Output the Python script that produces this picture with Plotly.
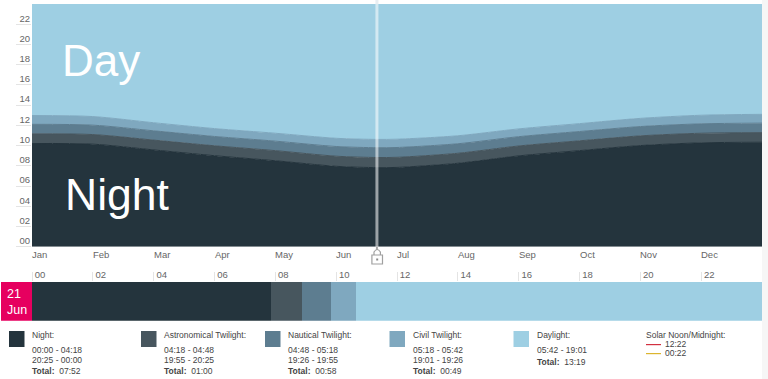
import plotly.graph_objects as go

W, H = 768, 379
L, R, T, B = 32, 762, 4, 246.7
BT, BB = 282, 320.7

# Year chart: hours per day in each band (x = months since 1 Jan)
months = ["Jan", "Feb", "Mar", "Apr", "May", "Jun", "Jul", "Aug", "Sep", "Oct", "Nov", "Dec"]
year_x = [0, 1, 2, 3, 4, 5, 5.67, 6, 7, 8, 9, 10, 11, 12]
night = [10.20, 10.14, 9.57, 9.00, 8.50, 7.95, 7.82, 7.84, 8.25, 8.98, 9.50, 10.00, 10.27, 10.33]
astro = [0.96, 0.95, 0.97, 0.98, 1.00, 1.00, 1.00, 1.00, 0.99, 0.98, 0.97, 0.96, 0.95, 0.95]
nautical = [0.94, 0.93, 0.92, 0.92, 0.94, 0.96, 0.97, 0.97, 0.94, 0.92, 0.92, 0.92, 0.93, 0.94]
civil = [0.87, 0.85, 0.80, 0.78, 0.78, 0.81, 0.82, 0.82, 0.79, 0.77, 0.78, 0.81, 0.85, 0.87]
daylight = [11.03, 11.13, 11.74, 12.32, 12.78, 13.28, 13.39, 13.37, 13.03, 12.35, 11.83, 11.31, 11.00, 10.91]
hour_ticks = ["00", "02", "04", "06", "08", "10", "12", "14", "16", "18", "20", "22"]

# Selected day: durations in hours, in stacking order
band_names = ["Night", "Astronomical Twilight", "Nautical Twilight", "Civil Twilight", "Daylight"]
band_colors = ["#24343d", "#47565e", "#5d7d90", "#7fa8bf", "#9ecfe3"]
day_hours = [7.87, 1.00, 0.97, 0.82, 13.34]
selected_x = 5.67
legend_lines = [
    ["00:00 - 04:18", "20:25 - 00:00", "07:52"],
    ["04:18 - 04:48", "19:55 - 20:25", "01:00"],
    ["04:48 - 05:18", "19:26 - 19:55", "00:58"],
    ["05:18 - 05:42", "19:01 - 19:26", "00:49"],
    ["05:42 - 19:01", None, "13:19"],
]
legend_px = [9, 141, 265, 389.5, 513.5]

GREY = "#666666"
DARK = "#444444"
FONT = "Liberation Sans"


def px(x):
    return x / W


def py(y):
    return 1 - y / H


fig = go.Figure()
for name, vals, col in zip(band_names, [night, astro, nautical, civil, daylight], band_colors):
    fig.add_trace(go.Scatter(
        x=year_x, y=vals, name=name, stackgroup="year", mode="lines",
        fillcolor=col, line=dict(shape="spline", smoothing=0.8, width=1, color=col), hoverinfo="x+y+name",
    ))
for name, v, col in zip(band_names, day_hours, band_colors):
    fig.add_trace(go.Bar(
        x=[v], y=[0], name=name, orientation="h", marker=dict(color=col, line=dict(width=0)),
        xaxis="x2", yaxis="y2",
    ))

shapes = []
ann = []


def text(x, y, s, size=9, color=DARK, xanchor="left", **kw):
    ann.append(dict(x=px(x), y=py(y), xref="paper", yref="paper", text=s, showarrow=False,
                    xanchor=xanchor, yanchor="middle", align="left", borderpad=0, borderwidth=0,
                    font=dict(size=size, color=color, family=FONT), **kw))


def rect(x0, y0, x1, y1, color):
    shapes.append(dict(type="rect", xref="paper", yref="paper", x0=px(x0), x1=px(x1),
                       y0=py(y0), y1=py(y1), fillcolor=color, line=dict(width=0)))


# right side strip
rect(R, 0, W, H, "#f6f6f6")

# selected-day marker
shapes.append(dict(type="line", xref="x", yref="paper", x0=selected_x, x1=selected_x,
                   y0=py(250), y1=py(T), line=dict(color="rgba(255,255,255,0.55)", width=3)))
shapes.append(dict(type="line", xref="x", yref="paper", x0=selected_x, x1=selected_x,
                   y0=py(B), y1=py(250), line=dict(color="#a8a8a8", width=2)))
shapes.append(dict(type="line", xref="x", yref="paper", x0=selected_x, x1=selected_x,
                   y0=py(4), y1=py(0), line=dict(color="#e8eef2", width=3)))

# lock icon
lx, ly = 377.2, 264
shapes.append(dict(type="rect", xref="paper", yref="paper", x0=px(lx - 5.3), x1=px(lx + 5.3),
                   y0=py(ly), y1=py(ly - 9), line=dict(color="#a0a0a0", width=1.2)))
shapes.append(dict(type="path", xref="paper", yref="paper",
                   path=f"M {px(lx-3.2)} {py(ly-9)} L {px(lx-3.2)} {py(ly-12)} Q {px(lx)} {py(ly-17)} {px(lx+3.2)} {py(ly-12)} L {px(lx+3.2)} {py(ly-9)}",
                   line=dict(color="#a0a0a0", width=1.2)))
rect(lx - 1, ly - 5.5, lx + 1, ly - 3.5, "#8a8a8a")

# month labels (left aligned at their month)
for i, m in enumerate(months):
    ann.append(dict(x=i, y=py(254), xref="x", yref="paper", text=m, showarrow=False, xanchor="left",
                    yanchor="middle", borderpad=0, borderwidth=0,
                    font=dict(size=9.5, color=GREY, family=FONT)))

# big labels
text(62, 60, "Day", size=44, color="#ffffff")
text(65, 194, "Night", size=44.5, color="#ffffff")

# date box
rect(1, BT, L, BB, "#e6005f")
text(16.5, 301.5, "21<br>Jun", size=12.5, color="#ffffff", xanchor="center")

# legend
for x0, name, col, lines in zip(legend_px, band_names, band_colors, legend_lines):
    rect(x0, 331, x0 + 15.5, 347, col)
    tx = x0 + 23
    text(tx, 335, name + ":", size=8.5)
    text(tx, 350, lines[0], size=8.5)
    if lines[1]:
        text(tx, 360, lines[1], size=8.5)
        text(tx, 371, f"<b>Total:</b>  {lines[2]}", size=8.5)
    else:
        text(tx, 362, f"<b>Total:</b>  {lines[2]}", size=8.5)

text(646, 335, "Solar Noon/Midnight:", size=8.5)
rect(646, 344, 661, 345.2, "#d23040")
rect(646, 353, 661, 354.2, "#dcb52e")
text(665, 344, "12:22", size=8.5)
text(665, 353, "00:22", size=8.5)

fig.update_layout(
    width=W, height=H, margin=dict(l=0, r=0, t=0, b=0, autoexpand=False), showlegend=False,
    paper_bgcolor="white", plot_bgcolor="white", barmode="stack", bargap=0,
    font=dict(family=FONT, size=9, color=GREY),
    shapes=shapes, annotations=ann,
    xaxis=dict(domain=[px(L), px(R)], range=[0, 12], showgrid=False, zeroline=False,
               showticklabels=False, ticks="", showline=False, fixedrange=True),
    yaxis=dict(domain=[py(B), py(T)], range=[0, 24], tickvals=list(range(0, 24, 2)),
               ticktext=hour_ticks, showgrid=False, zeroline=False, ticks="outside", ticklen=15,
               tickcolor="#e4e4e4", tickwidth=1, ticklabelshift=-6, ticklabelstandoff=-16,
               tickfont=dict(size=9.5, color=GREY), fixedrange=True),
    xaxis2=dict(domain=[px(L), px(R)], range=[0, 24], anchor="free", position=py(280.5),
                overlaying=None, side="top", tickvals=list(range(0, 24, 2)), ticktext=hour_ticks,
                showgrid=False, zeroline=False, ticks="outside", ticklen=9, tickcolor="#e4e4e4",
                ticklabelshift=8, ticklabelstandoff=-10, tickfont=dict(size=9.5, color=GREY),
                fixedrange=True),
    yaxis2=dict(domain=[py(BB), py(BT)], range=[-0.5, 0.5], visible=False, fixedrange=True,
                anchor="x2"),
)

fig.write_html("out.html", post_script="document.body.style.margin='0';document.body.style.overflow='hidden';",
               config=dict(displayModeBar=False))
